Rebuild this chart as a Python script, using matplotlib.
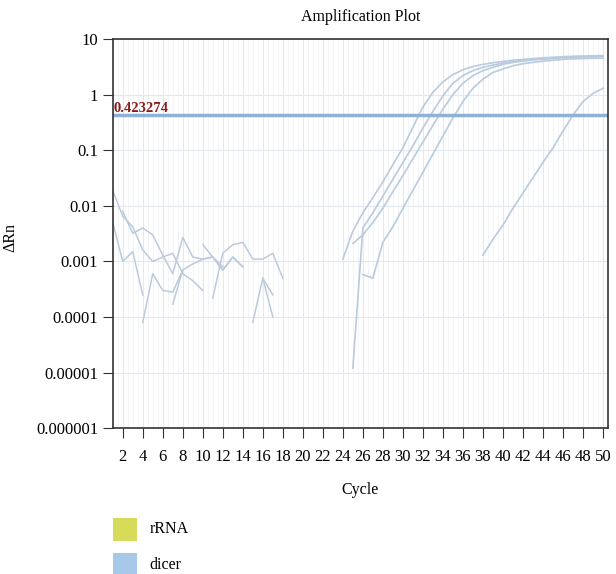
import matplotlib.pyplot as plt
from matplotlib.patches import Rectangle
import numpy as np

# amplification curves (dicer / rRNA wells)
amp_a_x = list(range(24, 51))
amp_a_y = [0.0011, 0.0035, 0.0075, 0.014, 0.027, 0.055, 0.11, 0.26, 0.6, 1.1, 1.7, 2.3, 2.8,
           3.2, 3.5, 3.75, 3.95, 4.15, 4.3, 4.45, 4.6, 4.7, 4.8, 4.9, 4.95, 5.0, 5.05]
amp_b_x = list(range(25, 51))
amp_b_y = [0.000012, 0.004, 0.0075, 0.015, 0.03, 0.06, 0.12, 0.25, 0.5, 0.95, 1.6, 2.2, 2.7,
           3.1, 3.4, 3.7, 3.9, 4.1, 4.3, 4.4, 4.5, 4.6, 4.7, 4.75, 4.8, 4.85]
amp_c_x = list(range(25, 51))
amp_c_y = [0.0021, 0.003, 0.005, 0.009, 0.018, 0.035, 0.07, 0.14, 0.28, 0.55, 1.0, 1.6, 2.2,
           2.7, 3.1, 3.5, 3.8, 4.0, 4.2, 4.35, 4.5, 4.6, 4.7, 4.8, 4.85, 4.9]
amp_d_x = list(range(26, 51))
amp_d_y = [0.00058, 0.0005, 0.0022, 0.0042, 0.009, 0.019, 0.04, 0.085, 0.18, 0.38, 0.75, 1.3,
           1.9, 2.5, 2.9, 3.3, 3.6, 3.8, 4.0, 4.15, 4.3, 4.4, 4.45, 4.5, 4.55]
amp_e_x = list(range(38, 51))
amp_e_y = [0.0013, 0.0025, 0.0045, 0.009, 0.017, 0.032, 0.06, 0.11, 0.22, 0.43, 0.75, 1.05, 1.3]

# baseline noise (early cycles)
noise_1_x = [1, 2, 3, 4, 5, 6, 7, 8, 9, 10]
noise_1_y = [0.019, 0.0065, 0.0042, 0.0016, 0.001, 0.0012, 0.0014, 0.0006, 0.00045, 0.0003]
noise_2_x = [1, 2, 3, 4]
noise_2_y = [0.005, 0.001, 0.0015, 0.00025]
noise_3_x = [2, 3, 4, 5, 6, 7, 8, 9, 10, 11, 12, 13, 14]
noise_3_y = [0.008, 0.0032, 0.004, 0.003, 0.0013, 0.0006, 0.0027, 0.0012, 0.0011, 0.0012,
             0.0007, 0.0012, 0.0008]
noise_4_x = [4, 5, 6, 7, 8]
noise_4_y = [0.00008, 0.0006, 0.0003, 0.00028, 0.0007]
noise_5_x = [7, 8, 9, 10, 11, 12, 13, 14]
noise_5_y = [0.00017, 0.0007, 0.0009, 0.0011, 0.0012, 0.0007, 0.0012, 0.0008]
noise_6_x = [10, 11, 12]
noise_6_y = [0.002, 0.0012, 0.0008]
noise_7_x = [11, 12, 13, 14, 15, 16, 17, 18]
noise_7_y = [0.00022, 0.0014, 0.002, 0.0022, 0.0011, 0.0011, 0.0014, 0.0005]
noise_8_x = [15, 16, 17]
noise_8_y = [0.00008, 0.0005, 0.0001]
noise_9_x = [16, 17]
noise_9_y = [0.0005, 0.00025]

threshold = 0.423274
legend_names = ["rRNA", "dicer"]
legend_colors = ["#d6dc5a", "#a7c9e9"]

plt.rcParams['font.family'] = ['Liberation Serif', 'DejaVu Serif']

fig = plt.figure(figsize=(6.16, 5.74), dpi=100)
ax = fig.add_axes([0.183, 0.254, 0.804, 0.678])

ax.set_yscale('log')
ax.set_xlim(1, 50)
ax.set_ylim(1e-6, 10)

# fine background grid
ax.set_xticks(np.arange(1, 51, 0.5), minor=True)
ax.grid(True, which='major', color='#e4e9ef', lw=0.8)
ax.grid(True, which='minor', color='#f0f3f7', lw=0.6)

noise = [(noise_1_x, noise_1_y), (noise_2_x, noise_2_y), (noise_3_x, noise_3_y),
         (noise_4_x, noise_4_y), (noise_5_x, noise_5_y), (noise_6_x, noise_6_y),
         (noise_7_x, noise_7_y), (noise_8_x, noise_8_y), (noise_9_x, noise_9_y)]
for nx, ny in noise:
    ax.plot(nx, ny, color='#bccbdc', lw=1.1)

amps = [(amp_a_x, amp_a_y), (amp_b_x, amp_b_y), (amp_c_x, amp_c_y),
        (amp_d_x, amp_d_y), (amp_e_x, amp_e_y)]
for axx, ayy in amps:
    ax.plot(axx, ayy, color='#bacbde', lw=1.2)

ax.axhline(threshold, color='#8fb2d4', lw=2.5)
ax.text(1.05, threshold * 1.02, "%.6f" % threshold, color='#8b1a1a', fontsize=10.5,
        fontweight='bold', va='bottom', ha='left')

ax.set_xticks(range(2, 51, 2))
ax.set_yticks([1e-6, 1e-5, 1e-4, 1e-3, 1e-2, 0.1, 1, 10])
ax.set_yticklabels(["0.000001", "0.00001", "0.0001", "0.001", "0.01", "0.1", "1", "10"])
ax.yaxis.set_minor_locator(plt.NullLocator())
ax.tick_params(axis='both', which='major', labelsize=12, length=7, color='#333333')
ax.tick_params(axis='x', pad=8)
ax.tick_params(axis='x', which='minor', length=0)
for s in ax.spines.values():
    s.set_color('#333333')
    s.set_linewidth(1.2)

ax.set_title("Amplification Plot", fontsize=11.5, pad=13)
ax.set_xlabel("Cycle", fontsize=11.5, labelpad=12)
ax.set_ylabel("ΔRn", fontsize=11.5)
ax.yaxis.set_label_coords(-0.19, 0.49)

# legend squares below the plot
for i, (name, col) in enumerate(zip(legend_names, legend_colors)):
    yb = 0.058 - i * 0.062
    fig.patches.append(Rectangle((0.184, yb), 0.038, 0.04, transform=fig.transFigure,
                                 facecolor=col, edgecolor='none'))
    fig.text(0.243, yb + 0.02, name, fontsize=11.5, va='center', ha='left')

fig.savefig("out.png", dpi=100)
